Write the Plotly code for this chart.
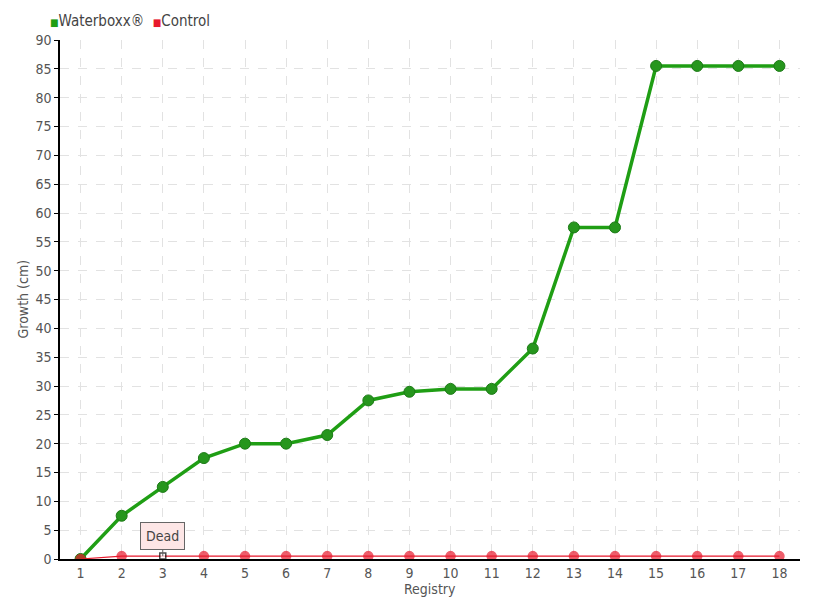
import plotly.graph_objects as go

registry = list(range(1, 19))
waterboxx = [0, 7.5, 12.5, 17.5, 20, 20, 21.5, 27.5, 29, 29.5, 29.5, 36.5, 57.5, 57.5, 85.5, 85.5, 85.5, 85.5]
control = [0] + [0.5] * 17
dead_index = 2  # registry 3
series_names = ["Waterboxx®", "Control"]

FONT = "DejaVu Sans Condensed, Liberation Sans Narrow, sans-serif"
GREEN = "#1f9e14"
GREEN_M = "#26961d"
RED = "#e8192c"

ctrl_symbols = ["circle"] * len(control)
ctrl_colors = [RED] * len(control)
ctrl_sizes = [9] * len(control)
ctrl_line_colors = [RED] * len(control)
ctrl_symbols[dead_index] = "square"
ctrl_colors[dead_index] = "white"
ctrl_sizes[dead_index] = 6
ctrl_line_colors[dead_index] = "black"

fig = go.Figure()
fig.add_trace(go.Scatter(
    x=registry, y=waterboxx, mode="lines+markers", name=series_names[0], showlegend=False,
    line=dict(color=GREEN, width=3.5),
    marker=dict(size=11, color=GREEN_M, line=dict(color="#1c7a16", width=1)),
))
fig.add_trace(go.Scatter(
    x=registry, y=control, mode="lines+markers", name=series_names[1], showlegend=False,
    line=dict(color=RED, width=1.2),
    marker=dict(size=ctrl_sizes, color=ctrl_colors, symbol=ctrl_symbols,
                line=dict(color=ctrl_line_colors, width=1.5)),
))

legend_text = (f"<span style='color:{GREEN};font-size:10px'>■</span>{series_names[0]}"
               f"&nbsp;&nbsp;<span style='color:{RED};font-size:10px'>■</span>{series_names[1]}")
fig.add_annotation(xref="paper", yref="paper", x=0, xshift=-12, y=1, yshift=19,
                   xanchor="left", yanchor="middle",
                   text=legend_text, showarrow=False,
                   font=dict(family=FONT, size=15, color="#444"))

# axis titles
fig.add_annotation(xref="paper", yref="paper", x=0.5, y=0, yshift=-30,
                   xanchor="center", yanchor="middle", text="Registry", showarrow=False,
                   font=dict(family=FONT, size=14, color="#555"))
fig.add_annotation(xref="paper", yref="paper", x=0, xshift=-38, y=0.5,
                   xanchor="center", yanchor="middle", textangle=-90, text="Growth (cm)",
                   showarrow=False, font=dict(family=FONT, size=14, color="#555"))

fig.add_annotation(x=registry[dead_index], y=control[dead_index], text="Dead",
                   showarrow=True, arrowhead=0, arrowwidth=1, arrowcolor="#666",
                   ax=0, ay=-20, bgcolor="#fde6e6", bordercolor="#666",
                   borderwidth=1, borderpad=5,
                   font=dict(family=FONT, size=14, color="#444"))

# the page body has an 8px margin, so the figure is 8px smaller than the window
fig.update_layout(
    width=812, height=592,
    margin=dict(l=52, r=20, t=32, b=41),
    plot_bgcolor="white", paper_bgcolor="white",
    font=dict(family=FONT, size=14, color="#555"),
    showlegend=False,
    xaxis=dict(range=[0.5, 18.5], tickvals=registry, ticktext=[str(r) for r in registry],
               showgrid=True, gridcolor="#e2e2e2", griddash="dash", zeroline=False,
               showline=True, linecolor="black", linewidth=1.5, automargin=False,
               ticks="", tickfont=dict(size=14)),
    yaxis=dict(range=[0, 90], dtick=5, showgrid=True, gridcolor="#e2e2e2", griddash="dash",
               zeroline=False, showline=True, linecolor="black", linewidth=1.5,
               ticks="outside", ticklen=4, tickcolor="black", automargin=False,
               tickfont=dict(size=14)),
)

fig.write_html("out.html")
